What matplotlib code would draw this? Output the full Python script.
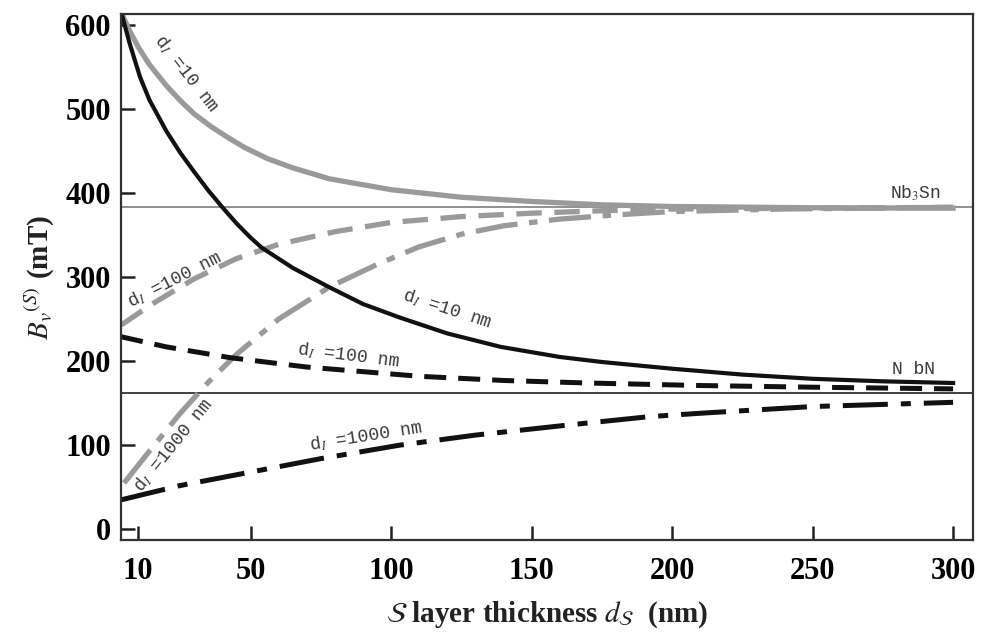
import numpy as np
import matplotlib
matplotlib.use("Agg")
import matplotlib.pyplot as plt

plt.rcParams["font.family"] = ["Liberation Serif", "DejaVu Serif"]
plt.rcParams["mathtext.fontset"] = "stix"

# Valores (d_S em nm, B em mT)
NB3SN = 383
NBN = 162

x_nb3sn_10 = [4, 7, 10, 14, 20, 25, 30, 36, 42, 48, 56, 65, 78, 100, 125, 150, 175, 200, 250, 300]
y_nb3sn_10 = [615, 593, 574, 553, 528, 510, 494, 479, 466, 454, 441, 430, 417, 404, 395, 390, 386, 384, 382.5, 382]

x_nb3sn_100 = [4, 15, 30, 45, 60, 80, 100, 125, 150, 175, 200, 250, 300]
y_nb3sn_100 = [243, 268, 298, 322, 339, 354, 365, 372, 376, 379, 381, 382, 383]

x_nb3sn_1000 = [5, 15, 25, 35, 45, 60, 78, 95, 110, 125, 140, 160, 180, 200, 240, 300]
y_nb3sn_1000 = [55, 97, 138, 175, 208, 250, 288, 315, 336, 351, 361, 369, 374, 378, 381, 383]

x_nbn_10 = [4, 7, 10.7, 14, 20, 25, 30, 35, 40, 45, 50, 54, 65, 78, 90, 103, 120, 139, 160, 175, 200, 225, 250, 275, 300]
y_nbn_10 = [615, 578, 538, 511, 474, 448, 425, 403, 383, 364, 347, 335, 311, 288, 268, 252, 233, 217, 205, 199, 191, 184, 179, 176, 174]

x_nbn_100 = [4, 20, 43, 70, 110, 140, 170, 210, 250, 300]
y_nbn_100 = [229, 217, 204, 193, 182, 177, 174, 171, 169, 167]

x_nbn_1000 = [4, 25, 50, 75, 103, 130, 163, 192, 210, 250, 300]
y_nbn_1000 = [35, 52, 68, 84, 100, 112, 124, 134, 138, 146, 151]

xticks = [10, 50, 100, 150, 200, 250, 300]
yticks = [0, 100, 200, 300, 400, 500, 600]

CINZA = "#9a9a9a"
PRETO = "#111111"
TEXTO = "#3a3a3a"

fig = plt.figure(figsize=(9.81, 6.37), dpi=100)
ax = fig.add_axes([0.123, 0.152, 0.8686, 0.826])

# linhas de referencia
ax.axhline(NB3SN, color="#888888", lw=1.3, zorder=1)
ax.axhline(NBN, color="#333333", lw=1.3, zorder=1)

# curvas Nb3Sn (cinza)
ax.plot(x_nb3sn_10, y_nb3sn_10, color=CINZA, lw=3.8)
ax.plot(x_nb3sn_100, y_nb3sn_100, color=CINZA, lw=3.8, dashes=(4.8, 2.4))
ax.plot(x_nb3sn_1000, y_nb3sn_1000, color=CINZA, lw=3.8, dashes=(8, 2.2, 1.6, 2.2))

# curvas NbN (preto)
ax.plot(x_nbn_10, y_nbn_10, color=PRETO, lw=3.0)
ax.plot(x_nbn_100, y_nbn_100, color=PRETO, lw=3.6, dashes=(4.4, 2.4))
ax.plot(x_nbn_1000, y_nbn_1000, color=PRETO, lw=3.6, dashes=(9, 2.6, 2, 2.6))

# rotulos das curvas
fm = dict(family=["Liberation Mono", "DejaVu Sans Mono"], fontsize=13, color=TEXTO,
          ha="center", va="center")
ax.text(27, 542, r"d$_{I}$ =10 nm", rotation=-52, **fm)
ax.text(23, 297, r"d$_{I}$ =100 nm", rotation=27, **fm)
ax.text(22.5, 100, r"d$_{I}$ =1000 nm", rotation=51, **fm)
ax.text(120, 262, r"d$_{I}$ =10 nm", rotation=-18, **fm)
ax.text(85, 207, r"d$_{I}$ =100 nm", rotation=-7, **fm)
ax.text(91, 110, r"d$_{I}$ =1000 nm", rotation=9, **fm)
ax.text(286.5, 400, r"Nb$_3$Sn", **fm)
ax.text(286, 190, "N bN", **fm)

ax.set_xlim(3.8, 307)
ax.set_ylim(-13, 613)
ax.set_xticks(xticks)
ax.set_yticks(yticks)
ax.tick_params(direction="in", length=10, width=1.8, labelsize=22,
               top=False, right=False, color="#222222")
ax.tick_params(axis="x", pad=12)
ax.tick_params(axis="y", pad=7)
for lab in ax.get_xticklabels() + ax.get_yticklabels():
    lab.set_fontweight("bold")
for s in ax.spines.values():
    s.set_linewidth(1.6)
    s.set_color("#333333")

ax.set_xlabel(r"$\mathcal{S}$ layer thickness $d_{\mathcal{S}}$  (nm)",
              fontsize=21, fontweight="bold", labelpad=10, color="#222222")
ax.set_ylabel(r"$\boldsymbol{B_v}^{(S)}$ (mT)", fontsize=21, fontweight="bold",
              labelpad=6, color="#222222")

fig.savefig("out.png", dpi=100)
